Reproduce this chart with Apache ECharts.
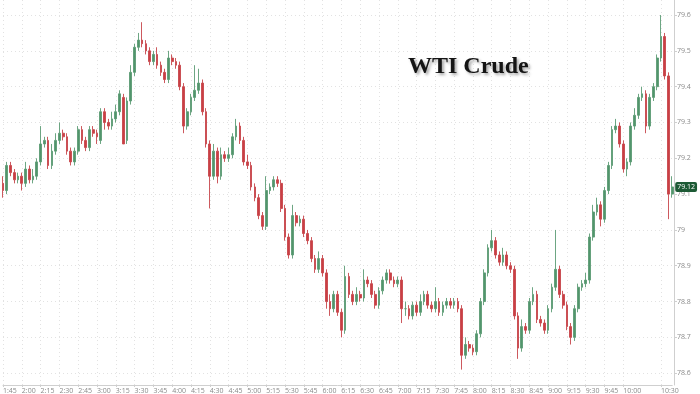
<!DOCTYPE html>
<html>
<head>
<meta charset="utf-8">
<script src="https://cdn.jsdelivr.net/npm/echarts@6/dist/echarts.min.js"></script>
<style>
  html, body { margin: 0; padding: 0; background: #ffffff; }
  #chart { width: 700px; height: 394px; }
</style>
</head>
<body>
<div id="chart"></div>
<script>
// 3-minute bars, 1:45 -> 10:39
const startMinute = 105;
const barMinutes = 3;

const openPrices = [
  79.13, 79.11, 79.18, 79.16, 79.14, 79.15, 79.13, 79.17, 79.14, 79.15,
  79.19, 79.24, 79.25, 79.18, 79.22, 79.25, 79.27, 79.26, 79.22, 79.19,
  79.22, 79.28, 79.25, 79.23, 79.28, 79.27, 79.25, 79.33, 79.30, 79.29,
  79.31, 79.33, 79.37, 79.25, 79.36, 79.44, 79.51, 79.53, 79.52, 79.50,
  79.47, 79.49, 79.46, 79.44, 79.42, 79.48, 79.47, 79.46, 79.40, 79.29,
  79.33, 79.37, 79.39, 79.41, 79.33, 79.24, 79.15, 79.22, 79.15, 79.21,
  79.20, 79.21, 79.26, 79.29, 79.25, 79.19, 79.18, 79.12, 79.09, 79.04,
  79.01, 79.11, 79.12, 79.14, 79.13, 79.06, 78.98, 78.93, 79.04, 79.02,
  79.03, 78.99, 78.97, 78.92, 78.89, 78.92, 78.88, 78.80, 78.78, 78.82,
  78.77, 78.72, 78.87, 78.82, 78.80, 78.82, 78.81, 78.86, 78.85, 78.82,
  78.79, 78.83, 78.86, 78.88, 78.86, 78.85, 78.86, 78.78, 78.78, 78.76,
  78.79, 78.77, 78.80, 78.82, 78.79, 78.78, 78.80, 78.77, 78.79, 78.80,
  78.79, 78.80, 78.78, 78.65, 78.68, 78.67, 78.66, 78.71, 78.80, 78.88,
  78.95, 78.97, 78.93, 78.91, 78.93, 78.90, 78.89, 78.76, 78.67, 78.73,
  78.72, 78.80, 78.82, 78.75, 78.74, 78.72, 78.78, 78.84, 78.89, 78.82,
  78.79, 78.73, 78.70, 78.78, 78.84, 78.85, 78.86, 78.98, 79.05, 79.07,
  79.03, 79.11, 79.18, 79.28, 79.29, 79.24, 79.17, 79.19, 79.29, 79.32,
  79.37, 79.38, 79.29, 79.37, 79.40, 79.48, 79.54, 79.43, 79.10
];

const closePrices = [
  79.11, 79.18, 79.16, 79.14, 79.15, 79.13, 79.17, 79.14, 79.15, 79.19,
  79.24, 79.25, 79.18, 79.22, 79.25, 79.27, 79.26, 79.22, 79.19, 79.22,
  79.28, 79.25, 79.23, 79.28, 79.27, 79.26, 79.33, 79.30, 79.29, 79.31,
  79.33, 79.38, 79.24, 79.36, 79.44, 79.51, 79.53, 79.52, 79.50, 79.47,
  79.49, 79.46, 79.44, 79.42, 79.48, 79.47, 79.46, 79.40, 79.29, 79.33,
  79.37, 79.39, 79.41, 79.33, 79.24, 79.15, 79.22, 79.15, 79.21, 79.20,
  79.21, 79.26, 79.29, 79.25, 79.19, 79.18, 79.12, 79.09, 79.04, 79.01,
  79.11, 79.12, 79.14, 79.13, 79.06, 78.98, 78.93, 79.04, 79.02, 79.03,
  78.99, 78.97, 78.92, 78.89, 78.92, 78.88, 78.80, 78.78, 78.82, 78.77,
  78.72, 78.87, 78.82, 78.80, 78.82, 78.81, 78.86, 78.85, 78.82, 78.79,
  78.83, 78.86, 78.88, 78.86, 78.85, 78.86, 78.78, 78.78, 78.76, 78.79,
  78.77, 78.80, 78.82, 78.79, 78.78, 78.80, 78.77, 78.79, 78.80, 78.79,
  78.80, 78.78, 78.65, 78.68, 78.67, 78.66, 78.71, 78.80, 78.88, 78.95,
  78.97, 78.93, 78.91, 78.93, 78.90, 78.89, 78.76, 78.67, 78.73, 78.72,
  78.80, 78.82, 78.75, 78.74, 78.72, 78.78, 78.84, 78.89, 78.82, 78.79,
  78.73, 78.70, 78.78, 78.84, 78.85, 78.86, 78.98, 79.05, 79.07, 79.03,
  79.11, 79.18, 79.28, 79.29, 79.24, 79.17, 79.19, 79.29, 79.32, 79.37,
  79.38, 79.29, 79.37, 79.40, 79.48, 79.54, 79.43, 79.10, 79.12
];

const highPrices = [
  79.15, 79.19, 79.19, 79.17, 79.16, 79.16, 79.19, 79.18, 79.17, 79.20,
  79.29, 79.26, 79.26, 79.24, 79.27, 79.30, 79.28, 79.27, 79.23, 79.23,
  79.29, 79.29, 79.26, 79.29, 79.29, 79.28, 79.34, 79.34, 79.31, 79.33,
  79.35, 79.39, 79.38, 79.37, 79.46, 79.52, 79.55, 79.58, 79.53, 79.51,
  79.50, 79.51, 79.47, 79.45, 79.50, 79.49, 79.48, 79.47, 79.41, 79.34,
  79.38, 79.46, 79.45, 79.42, 79.34, 79.25, 79.24, 79.23, 79.23, 79.22,
  79.23, 79.27, 79.31, 79.30, 79.26, 79.21, 79.19, 79.13, 79.10, 79.05,
  79.15, 79.13, 79.15, 79.15, 79.14, 79.07, 78.99, 79.07, 79.05, 79.04,
  79.04, 79.00, 78.98, 78.93, 78.94, 78.93, 78.89, 78.82, 78.83, 78.83,
  78.78, 78.90, 78.88, 78.83, 78.84, 78.83, 78.89, 78.87, 78.86, 78.83,
  78.84, 78.87, 78.89, 78.89, 78.87, 78.87, 78.87, 78.80, 78.79, 78.80,
  78.80, 78.82, 78.83, 78.83, 78.80, 78.84, 78.81, 78.80, 78.81, 78.81,
  78.81, 78.81, 78.79, 78.70, 78.69, 78.68, 78.72, 78.81, 78.89, 78.96,
  79.00, 78.98, 78.94, 78.95, 78.94, 78.91, 78.90, 78.77, 78.75, 78.74,
  78.81, 78.84, 78.83, 78.76, 78.75, 78.79, 78.85, 79.00, 78.90, 78.83,
  78.80, 78.74, 78.79, 78.85, 78.86, 78.88, 78.99, 79.07, 79.09, 79.08,
  79.12, 79.19, 79.29, 79.31, 79.30, 79.25, 79.20, 79.30, 79.34, 79.38,
  79.40, 79.39, 79.38, 79.41, 79.49, 79.60, 79.55, 79.44, 79.15
];

const lowPrices = [
  79.09, 79.10, 79.15, 79.13, 79.13, 79.11, 79.12, 79.13, 79.13, 79.14,
  79.18, 79.23, 79.17, 79.17, 79.21, 79.24, 79.25, 79.21, 79.18, 79.18,
  79.21, 79.24, 79.22, 79.22, 79.26, 79.24, 79.24, 79.28, 79.28, 79.28,
  79.30, 79.32, 79.24, 79.24, 79.35, 79.43, 79.50, 79.51, 79.49, 79.46,
  79.46, 79.45, 79.43, 79.41, 79.41, 79.46, 79.45, 79.39, 79.27, 79.28,
  79.32, 79.36, 79.38, 79.32, 79.23, 79.06, 79.14, 79.13, 79.14, 79.19,
  79.19, 79.20, 79.25, 79.24, 79.18, 79.17, 79.11, 79.08, 79.03, 79.00,
  79.00, 79.10, 79.11, 79.12, 79.05, 78.97, 78.92, 78.92, 79.01, 79.01,
  78.98, 78.96, 78.91, 78.88, 78.88, 78.87, 78.78, 78.76, 78.77, 78.76,
  78.70, 78.71, 78.81, 78.79, 78.79, 78.80, 78.80, 78.84, 78.81, 78.78,
  78.78, 78.82, 78.85, 78.85, 78.84, 78.84, 78.74, 78.76, 78.75, 78.75,
  78.76, 78.76, 78.79, 78.78, 78.77, 78.77, 78.76, 78.76, 78.78, 78.78,
  78.78, 78.77, 78.61, 78.64, 78.66, 78.65, 78.65, 78.70, 78.79, 78.87,
  78.94, 78.92, 78.90, 78.90, 78.89, 78.88, 78.75, 78.64, 78.66, 78.71,
  78.71, 78.79, 78.74, 78.73, 78.71, 78.71, 78.77, 78.83, 78.81, 78.78,
  78.72, 78.68, 78.69, 78.77, 78.83, 78.84, 78.85, 78.97, 79.04, 79.01,
  79.02, 79.10, 79.17, 79.27, 79.23, 79.16, 79.15, 79.18, 79.28, 79.31,
  79.36, 79.27, 79.28, 79.36, 79.39, 79.47, 79.42, 79.03, 79.09
];

const tickLabels = [
  '1:45', '2:00', '2:15', '2:30', '2:45', '3:00', '3:15', '3:30', '3:45',
  '4:00', '4:15', '4:30', '4:45', '5:00', '5:15', '5:30', '5:45', '6:00',
  '6:15', '6:30', '6:45', '7:00', '7:15', '7:30', '7:45', '8:00', '8:15',
  '8:30', '8:45', '9:00', '9:15', '9:30', '9:45', '10:00', '10:30'
];

const titleText = 'WTI Crude';

// category labels (bar times)
const times = [];
for (let i = 0; i < closePrices.length; i++) {
  const t = startMinute + i * barMinutes;
  const h = Math.floor(t / 60);
  const m = t % 60;
  times.push(h + ':' + (m < 10 ? '0' + m : '' + m));
}

const candleData = closePrices.map((c, i) => [openPrices[i], c, lowPrices[i], highPrices[i]]);
const lastClose = closePrices[closePrices.length - 1];

const showTick = (idx, val) => tickLabels.indexOf(val) >= 0;

const chart = echarts.init(document.getElementById('chart'), null, { renderer: 'canvas' });
chart.setOption({
  animation: false,
  backgroundColor: '#ffffff',
  title: {
    text: titleText,
    left: 403,
    top: 50,
    textStyle: {
      fontFamily: 'Liberation Serif, "DejaVu Serif", serif',
      fontWeight: 'bold',
      fontSize: 24,
      color: '#151515',
      textShadowColor: 'rgba(0,0,0,0.35)',
      textShadowBlur: 3,
      textShadowOffsetX: 2,
      textShadowOffsetY: 2
    }
  },
  grid: { left: 2.9, right: 27.8, top: 0, bottom: 8, containLabel: false },
  xAxis: {
    type: 'category',
    data: times,
    boundaryGap: false,
    axisLine: { show: true, lineStyle: { color: '#cfcfcf', width: 1 } },
    axisTick: { show: true, interval: showTick, length: 2, lineStyle: { color: '#cfcfcf' } },
    axisLabel: {
      interval: showTick,
      align: 'left',
      margin: 2,
      fontSize: 7,
      color: '#8a8a8a',
      fontFamily: 'Open Sans, sans-serif'
    },
    splitLine: {
      show: true,
      interval: showTick,
      lineStyle: { color: '#e2e2e2', type: [1, 3], width: 1 }
    }
  },
  yAxis: {
    type: 'value',
    position: 'right',
    offset: 1.8,
    min: 78.567,
    max: 79.642,
    splitNumber: 10,
    scale: true,
    axisLine: { show: true, lineStyle: { color: '#cfcfcf', width: 1 } },
    axisTick: { show: true, length: 3, lineStyle: { color: '#cfcfcf' } },
    axisLabel: {
      showMinLabel: false,
      showMaxLabel: false,
      margin: 3,
      fontSize: 7,
      color: '#8a8a8a',
      fontFamily: 'Open Sans, sans-serif'
    },
    splitLine: {
      show: true,
      showMinLine: false,
      showMaxLine: false,
      lineStyle: { color: '#e2e2e2', type: [1, 3], width: 1 }
    }
  },
  series: [{
    type: 'candlestick',
    data: candleData,
    barWidth: 2.2,
    clip: false,
    z: 3,
    itemStyle: {
      color: '#3f8a5c',
      color0: '#c42a30',
      borderColor: '#5d9c76',
      borderColor0: '#c8474c',
      borderWidth: 1,
      opacity: 0.9
    },
    markLine: {
      silent: true,
      symbol: ['none', 'none'],
      lineStyle: { color: 'rgba(0,0,0,0)', width: 0.01, type: 'solid' },
      data: [{ yAxis: lastClose }],
      label: {
        show: true,
        position: 'end',
        distance: 3,
        formatter: () => lastClose.toFixed(2),
        backgroundColor: '#1d5a35',
        color: '#ffffff',
        fontSize: 7,
        padding: [2, 2, 1, 2],
        borderRadius: 2,
        fontFamily: 'Open Sans, sans-serif'
      }
    }
  }]
});
</script>
</body>
</html>
